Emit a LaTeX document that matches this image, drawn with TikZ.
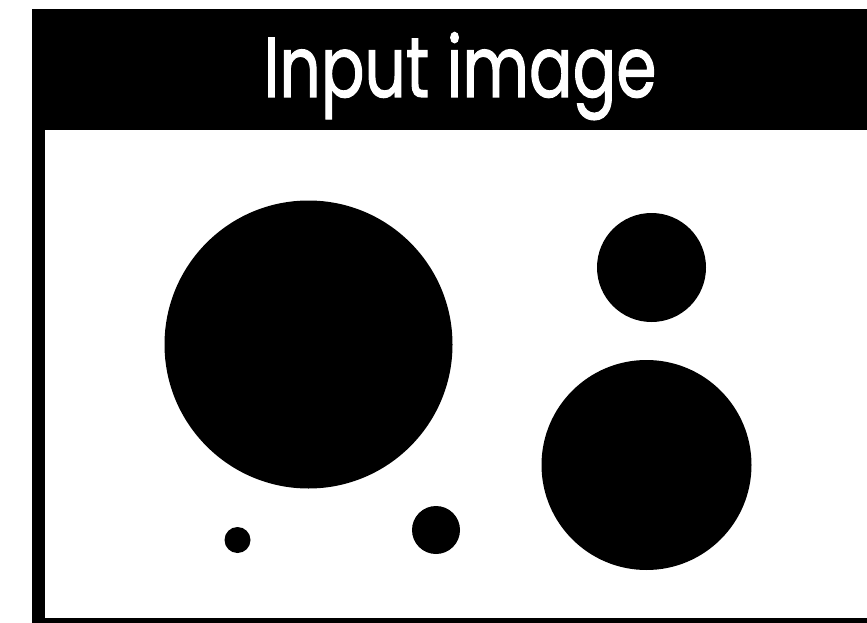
\documentclass[tikz,border=0pt]{standalone}
\usepackage{fontspec}
\newfontfamily\titlefont{Poppins}[FakeBold=1.5]
\begin{document}
\begin{tikzpicture}[x=1pt,y=-1pt,
  blob/.style={fill=black},
  title/.style={text=white,font=\titlefont\fontsize{85}{86}\selectfont,anchor=base,inner sep=0pt,xscale=0.76}]
\useasboundingbox (0,0) rectangle (867,623);
\fill[black] (32,9) rectangle (867,623);
\fill[white] (45,130) rectangle (867,618);
\node[title] (t) at (460,97) {Input image};
\fill[blob] (308.5,344.5) circle (144);
\fill[blob] (651.5,267.5) circle (54.5);
\fill[blob] (646.5,465) circle (105);
\fill[blob] (237.5,540) circle (13);
\fill[blob] (436,530) circle (24);
\end{tikzpicture}
\end{document}
